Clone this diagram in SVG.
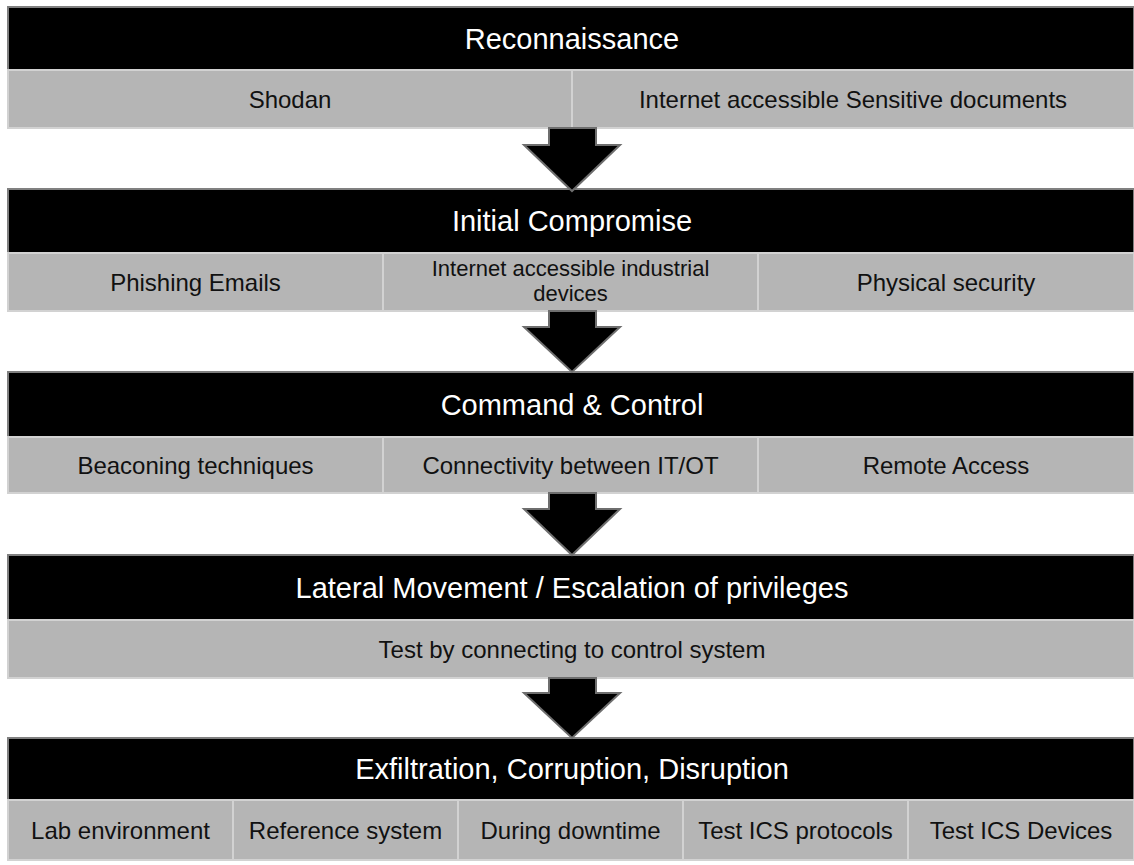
<svg xmlns="http://www.w3.org/2000/svg" width="1134" height="865" viewBox="0 0 1134 865">
  <style>
    .hdr { fill: #000000; stroke: #808080; stroke-width: 2; }
    .cell { fill: #b5b5b5; stroke: #d2d2d2; stroke-width: 2; }
    .htxt { font-family: "Liberation Sans", Arial, sans-serif; font-size: 29px; fill: #ffffff; text-anchor: middle; }
    .ctxt { font-family: "Liberation Sans", Arial, sans-serif; font-size: 24px; fill: #111111; text-anchor: middle; }
    .ctxt2 { font-size: 22px; }
    .arrow { fill: #000000; stroke: #6e6e6e; stroke-width: 2; stroke-linejoin: miter; }
  </style>
  <rect width="1134" height="865" fill="#ffffff"/>

  <!-- Stage 1 -->
  <g id="reconnaissance">
    <rect class="hdr" x="8" y="7" width="1126" height="63"/>
    <text class="htxt" x="572" y="48.5">Reconnaissance</text>
    <rect class="cell" x="8" y="70" width="564" height="58"/>
    <rect class="cell" x="572" y="70" width="562" height="58"/>
    <text class="ctxt" x="290" y="107.5">Shodan</text>
    <text class="ctxt" x="853" y="107.5">Internet accessible Sensitive documents</text>
  </g>

  <!-- Stage 2 -->
  <g id="initial-compromise">
    <rect class="hdr" x="8" y="189" width="1126" height="64"/>
    <text class="htxt" x="572" y="231">Initial Compromise</text>
    <rect class="cell" x="8" y="253" width="375" height="58"/>
    <rect class="cell" x="383" y="253" width="375" height="58"/>
    <rect class="cell" x="758" y="253" width="376" height="58"/>
    <text class="ctxt" x="195.5" y="290.5">Phishing Emails</text>
    <text class="ctxt ctxt2" x="570.5" y="275.5">Internet accessible industrial</text>
    <text class="ctxt ctxt2" x="570.5" y="300.5">devices</text>
    <text class="ctxt" x="946" y="290.5">Physical security</text>
  </g>

  <!-- Stage 3 -->
  <g id="command-control">
    <rect class="hdr" x="8" y="372" width="1126" height="65"/>
    <text class="htxt" x="572" y="414.5">Command &amp; Control</text>
    <rect class="cell" x="8" y="437" width="375" height="56"/>
    <rect class="cell" x="383" y="437" width="375" height="56"/>
    <rect class="cell" x="758" y="437" width="376" height="56"/>
    <text class="ctxt" x="195.5" y="473.5">Beaconing techniques</text>
    <text class="ctxt" x="570.5" y="473.5">Connectivity between IT/OT</text>
    <text class="ctxt" x="946" y="473.5">Remote Access</text>
  </g>

  <!-- Stage 4 -->
  <g id="lateral-movement">
    <rect class="hdr" x="8" y="555" width="1126" height="65"/>
    <text class="htxt" x="572" y="597.5">Lateral Movement / Escalation of privileges</text>
    <rect class="cell" x="8" y="620" width="1126" height="58"/>
    <text class="ctxt" x="572" y="657.5">Test by connecting to control system</text>
  </g>

  <!-- Stage 5 -->
  <g id="exfiltration">
    <rect class="hdr" x="8" y="738" width="1126" height="62"/>
    <text class="htxt" x="572" y="779">Exfiltration, Corruption, Disruption</text>
    <rect class="cell" x="8" y="800" width="225" height="60"/>
    <rect class="cell" x="233" y="800" width="225" height="60"/>
    <rect class="cell" x="458" y="800" width="225" height="60"/>
    <rect class="cell" x="683" y="800" width="225" height="60"/>
    <rect class="cell" x="908" y="800" width="226" height="60"/>
    <text class="ctxt" x="120.5" y="838.5">Lab environment</text>
    <text class="ctxt" x="345.5" y="838.5">Reference system</text>
    <text class="ctxt" x="570.5" y="838.5">During downtime</text>
    <text class="ctxt" x="795.5" y="838.5">Test ICS protocols</text>
    <text class="ctxt" x="1021" y="838.5">Test ICS Devices</text>
  </g>

  <!-- Block arrows between stages -->
  <g id="connectors">
    <polygon class="arrow" points="549,128 596,128 596,145 620,145 572,191 524,145 549,145"/>
    <polygon class="arrow" points="549,311 596,311 596,327 620,327 572,372 524,327 549,327"/>
    <polygon class="arrow" points="549,493 596,493 596,509 620,509 572,555 524,509 549,509"/>
    <polygon class="arrow" points="549,678 596,678 596,693 620,693 572,738 524,693 549,693"/>
  </g>
</svg>
